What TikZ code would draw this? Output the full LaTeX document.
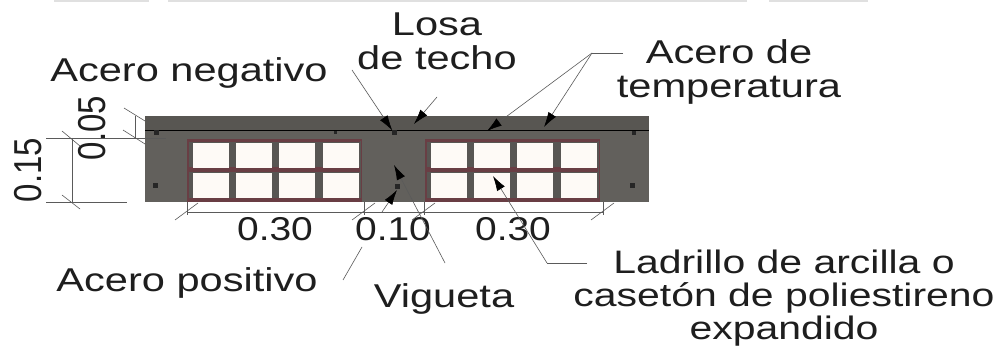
\documentclass[tikz,border=0pt]{standalone}
\usepackage{fontspec}
\setmainfont{Liberation Sans}
\usetikzlibrary{arrows.meta}
\definecolor{slab}{RGB}{98,96,92}
\definecolor{slabtop}{RGB}{88,86,82}
\definecolor{brick}{RGB}{105,62,68}
\definecolor{paneface}{RGB}{254,250,246}
\definecolor{ink}{RGB}{30,30,30}
\definecolor{thin}{RGB}{90,90,90}
\tikzset{
 lab/.style={font=\fontsize{33}{34.5}\selectfont,text=ink,inner sep=0pt,align=center,xscale=1.26,transform shape},
 dimtxt/.style={font=\fontsize{33}{34.5}\selectfont,text=ink,inner sep=0pt,xscale=1.18,transform shape},
 pane/.style={fill=paneface,draw=none},
 lead/.style={draw=thin,line width=0.6pt},
 head/.style={lead,-{Latex[length=15pt,width=9pt,color=black]}},
 dimline/.style={draw=thin,line width=0.6pt},
 bar/.style={fill=black!85,draw=none,minimum size=5pt,inner sep=0pt},
}
\begin{document}
\begin{tikzpicture}[x=1pt,y=-1pt]
\useasboundingbox (0,0) rectangle (1001,347);
\fill[white] (0,0) rectangle (1001,347);
\foreach \a/\b in {54/149,168/747,769/868}\fill[black!12] (\a,0) rectangle (\b,2);
% body
\fill[slab] (145,116) rectangle (649,202);
\fill[slabtop] (145,116) rectangle (649,131);
\foreach \x in {187,425}{
 \fill[brick] (\x,139) rectangle ++(175,63);
 \fill[slab!90!black] (\x+1.5,141) rectangle ++(172,59);
 \fill[brick] (\x+2,167.5) rectangle ++(171,5);
 \fill[brick] (\x+2,139) rectangle ++(171,3.5);
 \fill[brick] (\x+1,198) rectangle ++(173,4);
}
\foreach \x in {193,236,279,323,431,474,517,561}{
 \fill[pane] (\x,143) rectangle ++(36,25);
 \fill[pane] (\x,173) rectangle ++(36,25);
}
\draw[black,line width=1pt] (145,131) -- (649,131);
\node[bar] (b1) at (156,133) {};
\node[bar,minimum size=3pt] (b2) at (335,133) {};
\node[bar] (b3) at (394,133) {};
\node[bar,minimum size=4pt] (b4) at (634,133) {};
\node[bar] (b5) at (155,186) {};
\node[bar] (b6) at (632,186) {};
\node[bar] (b7) at (397,187) {};
% labels
\node[lab,anchor=base] (neg) at (189,82) {Acero negativo};
\node[lab] (losa) at (437,41.5) {Losa\\de techo};
\node[lab,font=\fontsize{33}{34}\selectfont] (temp) at (729,71.5) {Acero de\\temperatura};
\node[lab,anchor=base] (pos) at (187,292) {Acero positivo};
\node[lab,anchor=base] (vig) at (444,307) {Vigueta};
\node[lab,font=\fontsize{32.5}{33.3}\selectfont] (lad) at (784,298) {Ladrillo de arcilla o\\casetón de poliestireno\\expandido};
\node[dimtxt] (d1) at (275,229) {0.30};
\node[dimtxt] (d2) at (393,229) {0.10};
\node[dimtxt] (d3) at (513,229) {0.30};
\node[dimtxt,rotate=90] (d4) at (28,170) {0.15};
\node[dimtxt,rotate=90] (d5) at (92,128) {0.05};
% dimension lines
\coordinate (a1) at (72,138); \coordinate (a2) at (72,202);
\coordinate (a3) at (135,116); \coordinate (a4) at (135,138);
\draw[dimline] (a1) -- (a2);
\draw[dimline] (a3) -- (a4);
\draw[dimline] (46,202) -- (127,202);
\draw[dimline] (46,138) -- (166,138);
\draw[dimline] (62,131) -- (80,146);
\draw[dimline] (62,195) -- (80,209);
\draw[dimline] (124,108) -- (145,121);
\draw[dimline] (123,130) -- (145,144);
\draw[dimline] (187,212) -- (603,212);
\foreach \x in {187,364,424,603}{
 \draw[dimline] (\x,202) -- (\x,215);
 \draw[dimline] (\x-12,220) -- (\x+11,203);
}
% leaders
\coordinate (negs) at (352,70);
\coordinate (tj) at (592,53);
\coordinate (tk) at (623,53);
\coordinate (lade) at (587,263);
\coordinate (ladk) at (547,263);
\draw[head] (negs) -- (b3);
\draw[head] (437,97) -- (414,124);
\draw[lead] (tk) -- (tj);
\draw[head] (tj) -- (487,131);
\draw[head] (tj) -- (544,127);
\draw[lead] (lade) -- (ladk);
\draw[head] (ladk) -- (493,176);
\draw[head] (445,263) -- (394,165);
\draw[lead] (343,280) -- (362,247);
\draw[head] (382,212) -- (397,190);
\end{tikzpicture}
\end{document}
